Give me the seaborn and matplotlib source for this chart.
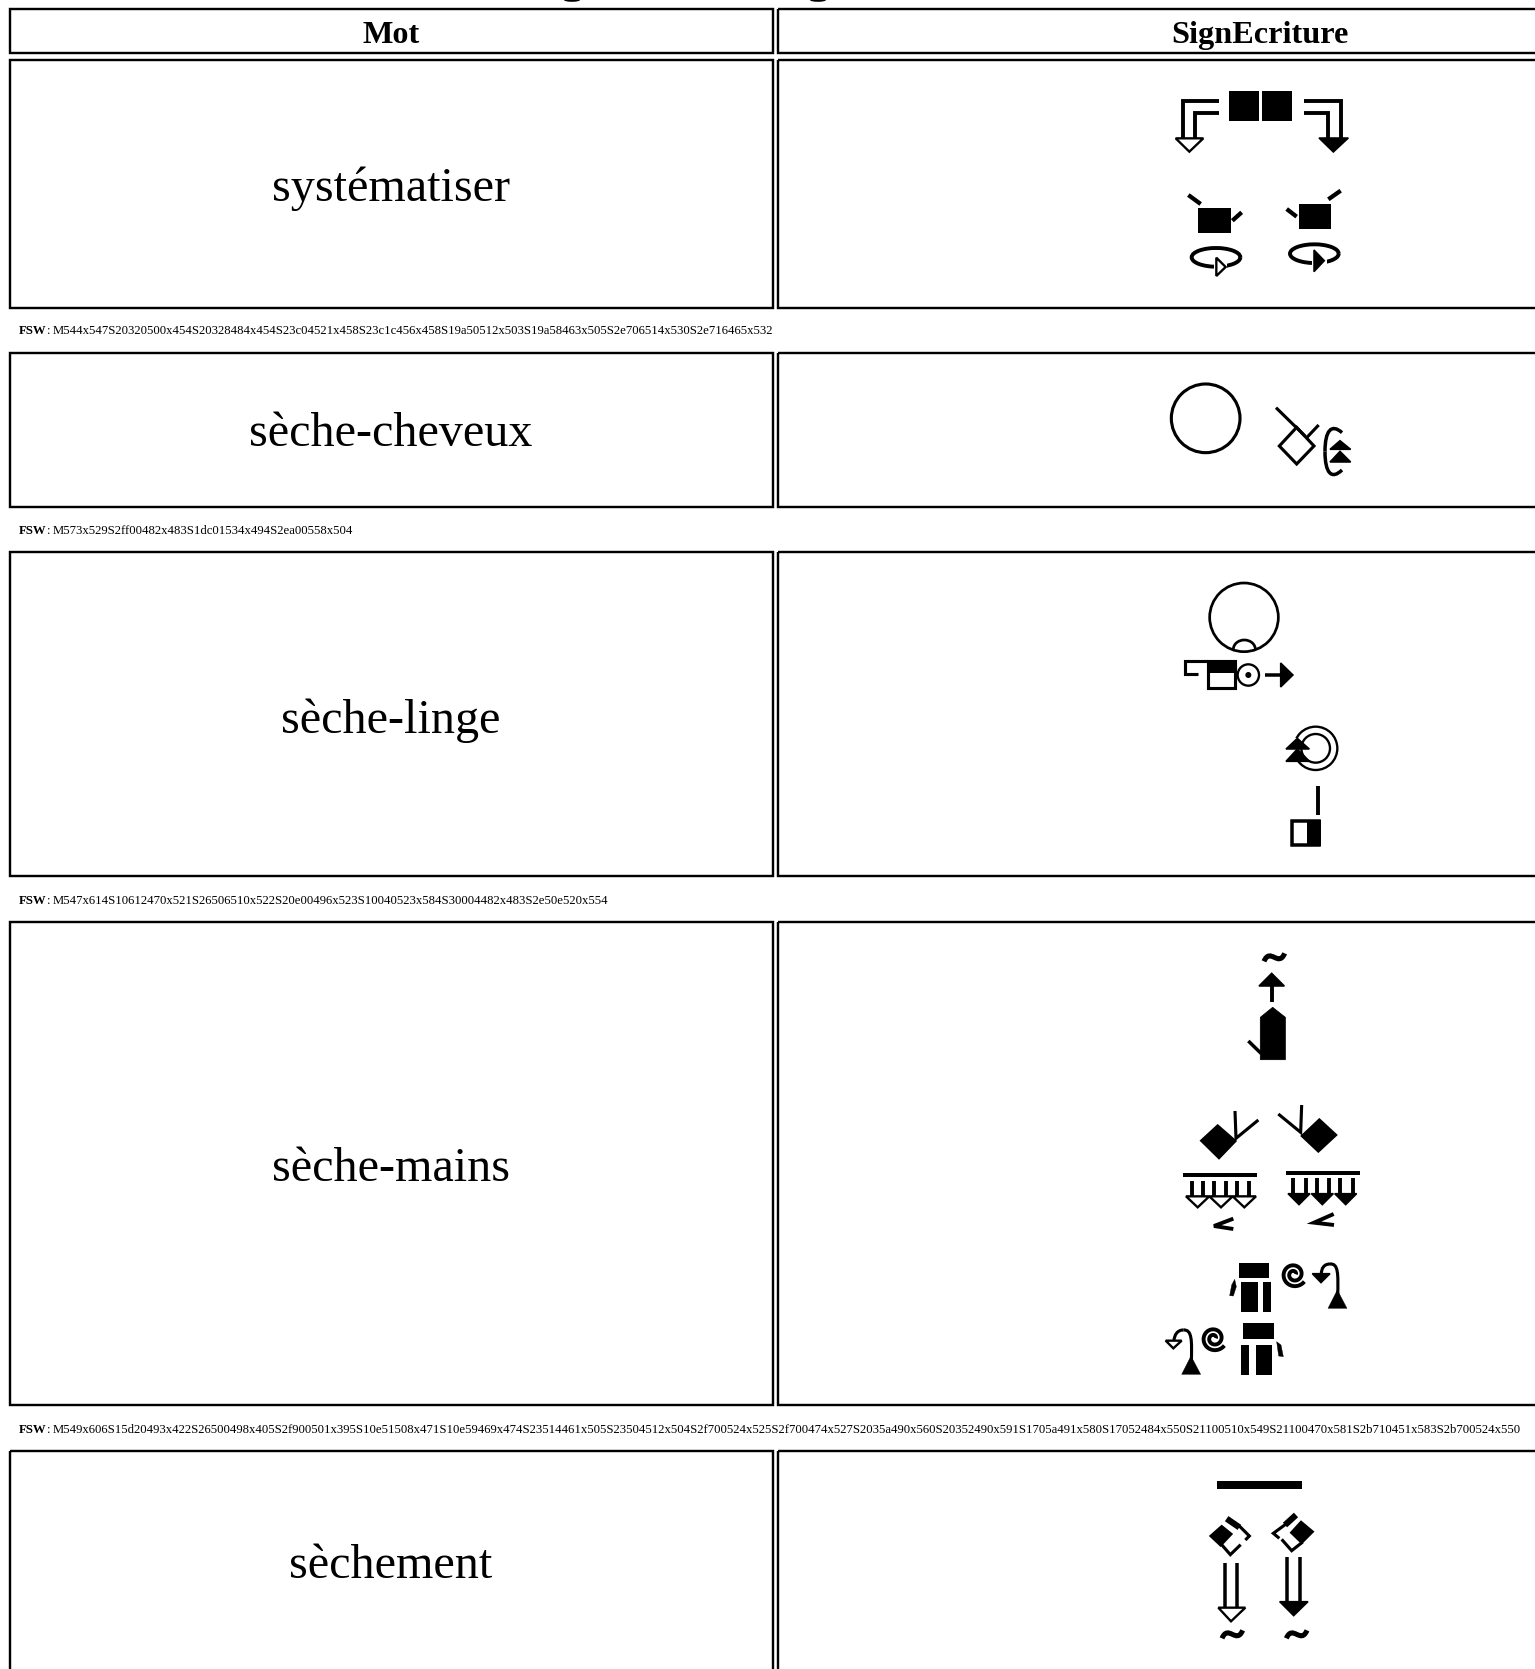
import numpy as np
import matplotlib
matplotlib.use("Agg")
import matplotlib.pyplot as plt
import seaborn as sns
from matplotlib.patches import Rectangle, Polygon, Circle, Ellipse, Arc, PathPatch
from matplotlib.path import Path

HEADERS = ["Mot", "SignEcriture"]
WORDS = ["systématiser", "sèche-cheveux", "sèche-linge", "sèche-mains", "sèchement"]
FSW_CODES = [
    "M544x547S20320500x454S20328484x454S23c04521x458S23c1c456x458S19a50512x503S19a58463x505S2e706514x530S2e716465x532",
    "M573x529S2ff00482x483S1dc01534x494S2ea00558x504",
    "M547x614S10612470x521S26506510x522S20e00496x523S10040523x584S30004482x483S2e50e520x554",
    "M549x606S15d20493x422S26500498x405S2f900501x395S10e51508x471S10e59469x474S23514461x505S23504512x504S2f700524x525S2f700474x527S2035a490x560S20352490x591S1705a491x580S17052484x550S21100510x549S21100470x581S2b710451x583S2b700524x550",
    None,
]
ROW_TOPS = [60, 353, 552, 922, 1451]
ROW_BOTTOMS = [308, 507, 876, 1405, 1700]
WORD_BASELINES = [201, 446, 733, 1181, 1578]
FSW_BASELINES = [334.5, 533.5, 904, 1433]

sns.set_theme(style="white")
plt.rcParams["font.family"] = ["Liberation Serif", "DejaVu Serif"]

W, H = 1535, 1669
fig = plt.figure(figsize=(W / 100, H / 100), dpi=100, facecolor="white")
ax = fig.add_axes([0, 0, 1, 1])
ax.set_xlim(0, W)
ax.set_ylim(H, 0)
ax.set_axis_off()
sns.despine(ax=ax, left=True, bottom=True)

BORDER = 2.4 * 0.72
LEFT = (9.5, 772.5)
RIGHT = (777.5, 1742)
STROKE = 0.28


def cell(x0, x1, y0, y1):
    ax.add_patch(Rectangle((x0, y0), x1 - x0, y1 - y0, fill=False, ec="black", lw=BORDER))


cell(*LEFT, 9.5, 53.5)
cell(*RIGHT, 9.5, 53.5)
ax.text(sum(LEFT) / 2, 43, HEADERS[0], ha="center", va="baseline", fontsize=23.2, fontweight="bold", color="black")
ax.text(sum(RIGHT) / 2, 43, HEADERS[1], ha="center", va="baseline", fontsize=23.2, fontweight="bold", color="black")

for word, top, bot, base in zip(WORDS, ROW_TOPS, ROW_BOTTOMS, WORD_BASELINES):
    cell(*LEFT, top, bot)
    cell(*RIGHT, top, bot)
    ax.text(sum(LEFT) / 2, base, word, ha="center", va="baseline", fontsize=34.7, color="black")

for code, base in zip(FSW_CODES, FSW_BASELINES):
    ax.text(19, base, "FSW", ha="left", va="baseline", fontsize=9.2, fontweight="bold", color="black")
    ax.text(47.5, base, ":", ha="left", va="baseline", fontsize=9.2, color="black")
    ax.text(53, base, code, ha="left", va="baseline", fontsize=9.2, color="black")

# descenders of the clipped page title
for cx in (572, 818):
    ax.add_patch(Ellipse((cx, 0), 16, 3.6, fc="black", ec="none"))


class Glyphs:

    def __init__(self, ox, oy):
        self.ox, self.oy = ox, oy

    def p(self, pts):
        return [(self.ox + x / 3, self.oy + y / 3) for x, y in pts]

    def rect(self, x0, y0, x1, y1, fill="black", lw=0, edge="black"):
        (a, b), (c, d) = self.p([(x0, y0), (x1, y1)])
        ax.add_patch(Rectangle((a, b), c - a, d - b, fc=fill, ec=edge, lw=lw * STROKE, joinstyle="miter"))

    def line(self, pts, lw=9):
        xy = np.array(self.p(pts))
        ax.plot(xy[:, 0], xy[:, 1], color="black", lw=lw * STROKE, solid_capstyle="butt", solid_joinstyle="miter")

    def poly(self, pts, fill="black", lw=4):
        ax.add_patch(Polygon(self.p(pts), closed=True, fc=fill, ec="black", lw=lw * STROKE, joinstyle="miter"))

    def circle(self, cx, cy, r, lw=7, fill="none"):
        c = self.p([(cx, cy)])[0]
        ax.add_patch(Circle(c, r / 3, fc=fill, ec="black", lw=lw * STROKE))

    def arc(self, cx, cy, w, h, t1, t2, lw=7):
        c = self.p([(cx, cy)])[0]
        ax.add_patch(Arc(c, w / 3, h / 3, theta1=t1, theta2=t2, ec="black", lw=lw * STROKE))

    def curve(self, pts, lw=9):
        codes = [Path.MOVETO] + [Path.CURVE4] * (len(pts) - 1)
        ax.add_patch(PathPatch(Path(self.p(pts), codes), fc="none", ec="black", lw=lw * STROKE, capstyle="butt"))

    def tilde(self, cx, cy, w=62):
        h = w / 2
        self.curve([(cx - h, cy + 12), (cx - h * 0.4, cy - 32), (cx + h * 0.4, cy + 32), (cx + h, cy - 12)], lw=13)

    def spiral(self, cx, cy, r0, start, turns=2.0, lw=9):
        t = np.linspace(0, turns * 2 * np.pi, 90)
        r = r0 * (1 - 0.85 * t / t[-1])
        a = np.deg2rad(start) + t
        self.line(list(zip(cx + r * np.cos(a), cy + r * np.sin(a))), lw=lw)


# ---- Row 1: systématiser
g = Glyphs(1140, 70)
g.rect(268, 62, 358, 153)
g.rect(365, 62, 455, 153)
g.line([(238, 93), (128, 93), (128, 205)], 10)
g.line([(238, 128), (165, 128), (165, 205)], 10)
g.poly([(107, 205), (190, 205), (148, 245)], fill="white", lw=6)
g.line([(492, 93), (602, 93), (602, 205)], 10)
g.line([(492, 128), (565, 128), (565, 205)], 10)
g.poly([(537, 204), (625, 204), (580, 246)])
g.rect(175, 413, 272, 488)
g.line([(145, 375), (182, 402)], 11)
g.line([(277, 452), (305, 427)], 11)
g.rect(477, 403, 573, 477)
g.line([(565, 388), (602, 362)], 11)
g.line([(440, 417), (470, 440)], 11)
g.arc(228, 562, 146, 56, 0, 360, 10)
g.rect(222, 575, 262, 625, fill="white", edge="white")
g.arc(523, 551, 146, 56, 0, 360, 10)
g.rect(516, 568, 562, 610, fill="white", edge="white")
g.poly([(229, 563), (257, 591), (229, 618)], fill="white", lw=6)
g.poly([(522, 540), (553, 572), (522, 605)])

# ---- Row 2: sèche-cheveux
g = Glyphs(1140, 370)
g.circle(197, 145, 103, 8)
g.poly([(470, 172), (522, 228), (470, 282), (418, 228)], fill="none", lw=8)
g.line([(408, 113), (495, 198)], 8)
g.line([(500, 203), (536, 165)], 8)
g.curve([(606, 188), (575, 160), (555, 180), (555, 245)], 9)
g.curve([(555, 245), (555, 310), (575, 330), (606, 300)], 9)
g.poly([(600, 212), (570, 238), (632, 238)])
g.poly([(600, 244), (570, 276), (632, 276)])

# ---- Row 3: sèche-linge
g = Glyphs(1150, 570)
g.circle(282, 142, 103, 7)
g.arc(283, 238, 66, 56, 180, 360, 7)
g.line([(145, 313), (105, 313), (105, 272), (175, 272)], 8)
g.rect(174, 272, 256, 353, fill="white", lw=8)
g.rect(172, 270, 258, 308)
g.circle(295, 315, 32, 6)
g.circle(295, 315, 9, 0, fill="black")
g.line([(345, 315), (395, 315)], 9)
g.poly([(392, 279), (429, 315), (392, 351)])
g.circle(497, 535, 65, 6)
g.circle(497, 535, 43, 6)
g.rect(405, 505, 450, 575, fill="white", edge="white")
g.poly([(442, 505), (408, 537), (478, 537)])
g.poly([(442, 537), (408, 574), (478, 574)])
g.line([(505, 648), (505, 736)], 10)
g.rect(426, 754, 508, 824, fill="white", lw=9)
g.rect(470, 750, 512, 828)

# ---- Row 4: sèche-mains
g = Glyphs(1150, 930)
g.tilde(373, 82)
g.poly([(365, 130), (327, 168), (403, 168)])
g.line([(365, 168), (365, 215)], 10)
g.poly([(368, 232), (406, 262), (406, 389), (331, 389), (331, 262)], lw=2)
g.line([(295, 333), (333, 370)], 9)
g.poly([(203, 585), (258, 633), (207, 686), (152, 632)])
g.line([(255, 543), (258, 625), (325, 570)], 8)
g.poly([(508, 567), (560, 615), (505, 666), (454, 618)])
g.line([(455, 525), (452, 607), (385, 552)], 8)
g.rect(100, 728, 322, 740)
g.rect(407, 722, 630, 734)
for a, b in [(125, 158), (192, 228), (260, 297)]:
    g.line([(a, 752), (a, 798)], 10)
    g.line([(b, 752), (b, 798)], 10)
for c in (143, 213, 283):
    g.poly([(c - 35, 799), (c + 35, 799), (c, 832)], fill="white", lw=6)
for a, b in [(430, 468), (500, 538), (570, 608)]:
    g.line([(a, 745), (a, 792)], 10)
    g.line([(b, 745), (b, 792)], 10)
for c in (447, 517, 587):
    g.poly([(c - 33, 791), (c + 33, 791), (c, 824)])
g.line([(250, 866), (192, 888), (250, 897)], 10)
g.line([(551, 852), (492, 878), (552, 885)], 10)

g = Glyphs(1150, 1230)
g.rect(268, 98, 358, 145)
g.rect(274, 157, 323, 247)
g.rect(340, 157, 364, 247)
g.poly([(254, 148), (259, 170), (250, 198), (239, 197), (245, 165)], lw=1)
g.rect(280, 280, 371, 327)
g.rect(274, 345, 298, 435)
g.rect(317, 345, 365, 435)
g.poly([(380, 335), (393, 345), (400, 380), (386, 378)], lw=1)
g.spiral(432, 133, 38, 35, turns=1.9, lw=10)
g.spiral(192, 325, 38, 35, turns=1.9, lw=10)
g.poly([(562, 180), (534, 235), (591, 235)], lw=1)
g.curve([(563, 200), (565, 130), (565, 100), (540, 102)], 8)
g.curve([(540, 102), (522, 102), (514, 115), (514, 132)], 8)
g.poly([(487, 131), (540, 131), (513, 158)])
g.poly([(123, 378), (95, 433), (152, 433)], lw=1)
g.curve([(124, 395), (126, 330), (126, 298), (100, 300)], 8)
g.curve([(100, 300), (82, 300), (73, 315), (72, 332)], 8)
g.poly([(47, 332), (95, 332), (70, 355)], fill="white", lw=6)

# ---- Row 5: sèchement
g = Glyphs(1150, 1450)
g.rect(202, 93, 455, 117)
g.poly([(180, 258), (215, 227), (246, 252), (212, 288)])
g.line([(215, 284), (241, 314), (272, 284)], 8)
g.line([(230, 206), (268, 232)], 16)
g.line([(268, 228), (298, 258), (286, 270)], 8)
g.poly([(490, 245), (455, 280), (422, 248), (453, 214)])
g.line([(395, 268), (425, 302), (458, 276)], 8)
g.line([(438, 195), (405, 225)], 16)
g.line([(408, 222), (370, 250), (388, 265)], 8)
g.line([(225, 340), (225, 472)], 9)
g.line([(262, 340), (262, 472)], 9)
g.poly([(205, 473), (286, 473), (243, 514)], fill="white", lw=6)
g.line([(412, 322), (412, 455)], 9)
g.line([(450, 322), (450, 455)], 9)
g.poly([(389, 455), (474, 455), (431, 497)])
g.tilde(247, 553)
g.tilde(440, 553)

fig.savefig("out.png", dpi=100, facecolor="white")
